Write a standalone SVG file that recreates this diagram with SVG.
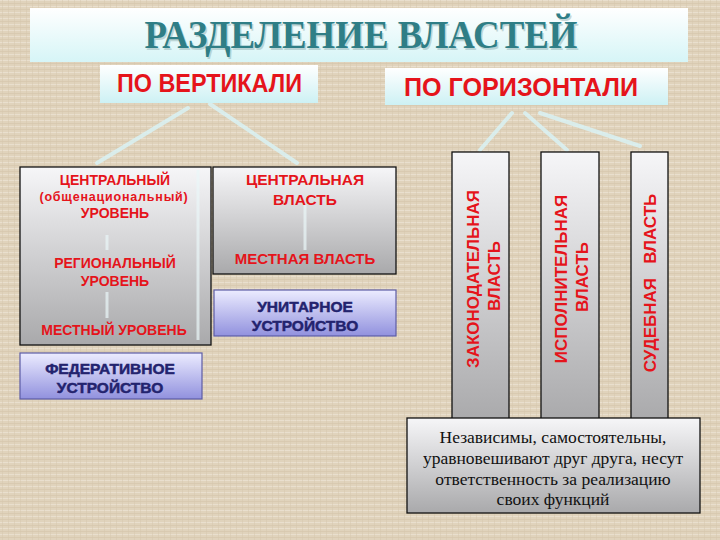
<svg xmlns="http://www.w3.org/2000/svg" width="720" height="540" viewBox="0 0 720 540">
<defs>
  <pattern id="burlap" width="6" height="6" patternUnits="userSpaceOnUse">
    <rect width="6" height="6" fill="#e0d3bc"/>
    <rect x="0" y="0" width="6" height="1" fill="#ebe2d2" opacity="0.8"/>
    <rect x="0" y="3" width="6" height="1" fill="#d4c5aa" opacity="0.6"/>
    <rect x="2" y="0" width="1" height="6" fill="#d6c7ad" opacity="0.5"/>
  </pattern>
  <linearGradient id="banner" x1="0" y1="0" x2="0" y2="1">
    <stop offset="0" stop-color="#ffffff"/>
    <stop offset="1" stop-color="#d6f5f7"/>
  </linearGradient>
  <linearGradient id="cyanbox" x1="0" y1="0" x2="0" y2="1">
    <stop offset="0" stop-color="#ffffff"/>
    <stop offset="1" stop-color="#cdf1f4"/>
  </linearGradient>
  <linearGradient id="gray" x1="0" y1="0" x2="0" y2="1">
    <stop offset="0" stop-color="#f6f6f8"/>
    <stop offset="1" stop-color="#a9a9ab"/>
  </linearGradient>
  <linearGradient id="lav" x1="0" y1="0" x2="0" y2="1">
    <stop offset="0" stop-color="#ececff"/>
    <stop offset="1" stop-color="#9191de"/>
  </linearGradient>
  <style>
    .red{font-family:"Liberation Sans",Arial,sans-serif;font-weight:bold;fill:#e5141b;text-anchor:middle}
    .navy{font-family:"Liberation Sans",Arial,sans-serif;font-weight:bold;fill:#23236e;stroke:#23236e;stroke-width:0.5;text-anchor:middle;font-size:15.5px}
    .box{stroke:#111;stroke-width:1.3}
    .lav{fill:url(#lav);stroke:#5c5ca6;stroke-width:1.2}
    .conn{stroke:#d8f4f8;stroke-width:4;stroke-linecap:round;opacity:0.8;fill:none}
    .faint{stroke:#e9f6f8;stroke-width:3;opacity:0.7;fill:none}
    .body{font-family:"Liberation Serif","Times New Roman",serif;font-size:17.5px;fill:#111;text-anchor:middle}
  </style>
</defs>
<rect width="720" height="540" fill="url(#burlap)"/>

<g id="title">
  <rect x="30" y="8" width="658" height="54" fill="url(#banner)"/>
  <text x="362.5" y="49.5" font-family="'Liberation Serif','Times New Roman',serif" font-weight="bold" font-size="39" fill="#8aa" text-anchor="middle" opacity="0.45" textLength="433" lengthAdjust="spacingAndGlyphs">РАЗДЕЛЕНИЕ ВЛАСТЕЙ</text>
  <text x="361" y="48" font-family="'Liberation Serif','Times New Roman',serif" font-weight="bold" font-size="39" fill="#2f7e86" text-anchor="middle" textLength="433" lengthAdjust="spacingAndGlyphs">РАЗДЕЛЕНИЕ ВЛАСТЕЙ</text>
</g>

<g id="connectors">
  <line class="conn" x1="188" y1="108" x2="97" y2="163"/>
  <line class="conn" x1="210" y1="104" x2="297" y2="163"/>
  <line class="conn" x1="512" y1="113" x2="480" y2="150"/>
  <line class="conn" x1="525" y1="113" x2="567" y2="150"/>
  <line class="conn" x1="540" y1="113" x2="640" y2="146"/>
</g>

<g id="vertical">
  <rect x="100" y="65" width="218" height="38" fill="url(#cyanbox)"/>
  <text class="red" x="209.5" y="92" font-size="25" textLength="185" lengthAdjust="spacingAndGlyphs">ПО ВЕРТИКАЛИ</text>
</g>
<g id="horizontal">
  <rect x="385" y="68" width="283" height="37" fill="url(#cyanbox)"/>
  <text class="red" x="521" y="96" font-size="25" textLength="234" lengthAdjust="spacingAndGlyphs">ПО ГОРИЗОНТАЛИ</text>
</g>

<g id="levels">
  <rect class="box" x="20" y="167" width="191" height="178" fill="url(#gray)"/>
  <line class="faint" x1="107" y1="235" x2="107" y2="250"/>
  <line class="faint" x1="107" y1="292" x2="107" y2="318"/>
  <line class="faint" x1="198" y1="170" x2="198" y2="340" stroke-width="2"/>
  <text class="red" x="115" y="185" font-size="14">ЦЕНТРАЛЬНЫЙ</text>
  <text class="red" x="114" y="201" font-size="12.5" letter-spacing="0.8">(общенациональный)</text>
  <text class="red" x="115" y="218" font-size="14">УРОВЕНЬ</text>
  <text class="red" x="115" y="268" font-size="14">РЕГИОНАЛЬНЫЙ</text>
  <text class="red" x="115" y="286" font-size="14">УРОВЕНЬ</text>
  <text class="red" x="114" y="335" font-size="14">МЕСТНЫЙ УРОВЕНЬ</text>
</g>

<g id="central">
  <rect class="box" x="213" y="167" width="183" height="107" fill="url(#gray)"/>
  <line class="faint" x1="305" y1="205" x2="305" y2="250"/>
  <text class="red" x="305" y="185" font-size="15.5">ЦЕНТРАЛЬНАЯ</text>
  <text class="red" x="305" y="205" font-size="15.5">ВЛАСТЬ</text>
  <text class="red" x="305" y="264" font-size="15">МЕСТНАЯ ВЛАСТЬ</text>
</g>

<g id="unitary">
  <rect class="lav" x="214" y="290" width="182" height="46"/>
  <text class="navy" x="305" y="312">УНИТАРНОЕ</text>
  <text class="navy" x="305" y="331">УСТРОЙСТВО</text>
</g>

<g id="federal">
  <rect class="lav" x="20" y="353" width="182" height="46"/>
  <text class="navy" x="110" y="374" font-size="16">ФЕДЕРАТИВНОЕ</text>
  <text class="navy" x="110" y="393" font-size="16">УСТРОЙСТВО</text>
</g>

<g id="legislative">
  <rect class="box" x="452" y="152" width="57" height="270" fill="url(#gray)"/>
  <text class="red" font-size="17" transform="translate(479,279) rotate(-90)">ЗАКОНОДАТЕЛЬНАЯ</text>
  <text class="red" font-size="17" transform="translate(500,276) rotate(-90)">ВЛАСТЬ</text>
</g>

<g id="executive">
  <rect class="box" x="541" y="152" width="58" height="270" fill="url(#gray)"/>
  <text class="red" font-size="17" transform="translate(567,279) rotate(-90)">ИСПОЛНИТЕЛЬНАЯ</text>
  <text class="red" font-size="17" transform="translate(588,277) rotate(-90)">ВЛАСТЬ</text>
</g>

<g id="judicial">
  <rect class="box" x="631" y="152" width="37" height="270" fill="url(#gray)"/>
  <text class="red" font-size="17" style="white-space:pre" transform="translate(656,283) rotate(-90)">СУДЕБНАЯ   ВЛАСТЬ</text>
</g>

<g id="note">
  <rect class="box" x="407" y="418" width="293" height="95" fill="url(#gray)"/>
  <text class="body" x="553" y="443">Независимы, самостоятельны,</text>
  <text class="body" x="553" y="464">уравновешивают друг друга, несут</text>
  <text class="body" x="553" y="485">ответственность за реализацию</text>
  <text class="body" x="553" y="505">своих функций</text>
</g>
</svg>
